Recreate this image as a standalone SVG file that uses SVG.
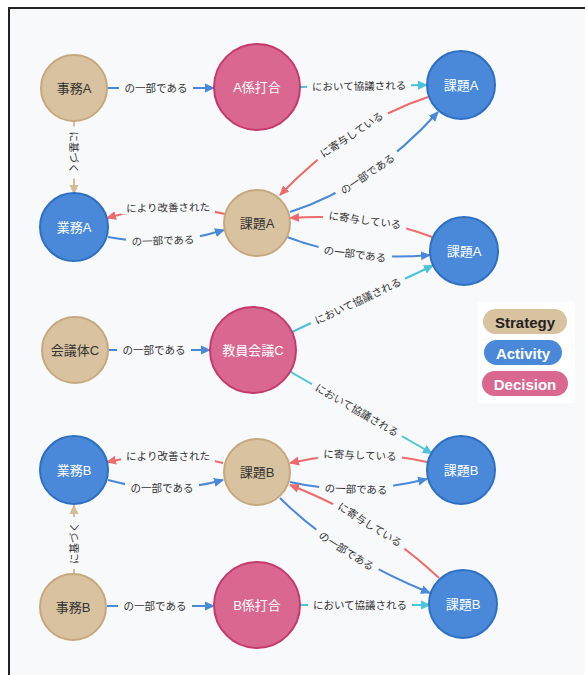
<svg xmlns="http://www.w3.org/2000/svg" width="585" height="675" viewBox="0 0 585 675">
<style>
.bg{fill:#f8f9fb}
.nt{font-family:"Liberation Sans","Noto Sans CJK JP",sans-serif;font-size:13px;text-anchor:middle;dominant-baseline:central}
.dark{fill:#333}
.light{fill:#fff}
.tan{fill:#d8c29f;stroke:#c6a87e;stroke-width:2}
.blue{fill:#4a89da;stroke:#2f6fc2;stroke-width:2}
.pink{fill:#d9678f;stroke:#c43a6b;stroke-width:2}
.e{fill:none;stroke-width:2}
.eb{stroke:#4a89da}
.er{stroke:#ef6a6a}
.ec{stroke:#4cc3d8}
.et{stroke:#d4bc98}
.lb{fill:#f8f9fb}
.el{font-family:"Liberation Sans","Noto Sans CJK JP",sans-serif;font-size:10.5px;fill:#333;text-anchor:middle;dominant-baseline:central}
.lg{font-family:"Liberation Sans",Arial,sans-serif;font-size:15px;font-weight:bold;text-anchor:middle;dominant-baseline:central}
</style>
<defs>
<marker id="mb" viewBox="0 0 10 10" refX="9" refY="5" markerWidth="10" markerHeight="10" markerUnits="userSpaceOnUse" orient="auto"><path d="M0,0.5 L10,5 L0,9.5 z" fill="#4a89da"/></marker>
<marker id="mr" viewBox="0 0 10 10" refX="9" refY="5" markerWidth="10" markerHeight="10" markerUnits="userSpaceOnUse" orient="auto"><path d="M0,0.5 L10,5 L0,9.5 z" fill="#ef6a6a"/></marker>
<marker id="mc" viewBox="0 0 10 10" refX="9" refY="5" markerWidth="10" markerHeight="10" markerUnits="userSpaceOnUse" orient="auto"><path d="M0,0.5 L10,5 L0,9.5 z" fill="#4cc3d8"/></marker>
<marker id="mt" viewBox="0 0 10 10" refX="9" refY="5" markerWidth="10" markerHeight="10" markerUnits="userSpaceOnUse" orient="auto"><path d="M0,0.5 L10,5 L0,9.5 z" fill="#d4bc98"/></marker>
</defs>
<rect x="0" y="0" width="585" height="675" fill="#fff"/>
<rect x="9" y="8" width="576" height="667" class="bg"/>
<path d="M9,675 L9,8 L585,8" fill="none" stroke="#222" stroke-width="2"/>

<g id="connectors">
<!-- E1 -->
<path class="e eb" d="M107,88 L214,88" marker-end="url(#mb)"/>
<g transform="translate(156,88)"><rect class="lb" x="-37" y="-6" width="74" height="12"/><text class="el">の一部である</text></g>
<!-- E2 -->
<path class="e ec" d="M300,87 L427,85" marker-end="url(#mc)"/>
<g transform="translate(359,86) rotate(-0.9)"><rect class="lb" x="-52" y="-6" width="104" height="12"/><text class="el">において協議される</text></g>
<!-- E3 -->
<path class="e et" d="M74,121 L74,194" marker-end="url(#mt)"/>
<g transform="translate(74,152.5) rotate(90)"><rect class="lb" x="-26" y="-6" width="52" height="12"/><text class="el">に基づく</text></g>
<!-- E4 red TR -> center -->
<path class="e er" d="M428,97 Q349,123 280,195" marker-end="url(#mr)"/>
<g transform="translate(351.5,134.5) rotate(-33.5)"><rect class="lb" x="-42" y="-6" width="84" height="12"/><text class="el">に寄与している</text></g>
<!-- blue center -> TR -->
<path class="e eb" d="M290,212 Q371,186 438,112" marker-end="url(#mb)"/>
<g transform="translate(367.5,174) rotate(-34)"><rect class="lb" x="-37" y="-6" width="74" height="12"/><text class="el">の一部である</text></g>
<!-- E5 red center -> 業務A -->
<path class="e er" d="M225,214 Q168,200 107,218" marker-end="url(#mr)"/>
<g transform="translate(168,207.5) rotate(-1)"><rect class="lb" x="-47" y="-6" width="94" height="12"/><text class="el">により改善された</text></g>
<!-- E6 blue 業務A -> center -->
<path class="e eb" d="M108,237 Q166,248 224,230" marker-end="url(#mb)"/>
<g transform="translate(163,240.5) rotate(-2)"><rect class="lb" x="-37" y="-6" width="74" height="12"/><text class="el">の一部である</text></g>
<!-- E7 red lower -> center -->
<path class="e er" d="M432,237 Q369,212.5 290,218" marker-end="url(#mr)"/>
<g transform="translate(365,220) rotate(7.6)"><rect class="lb" x="-42" y="-6" width="84" height="12"/><text class="el">に寄与している</text></g>
<!-- E8 blue center -> lower -->
<path class="e eb" d="M287,237 Q352,262 430,255" marker-end="url(#mb)"/>
<g transform="translate(355,254) rotate(7.5)"><rect class="lb" x="-37" y="-6" width="74" height="12"/><text class="el">の一部である</text></g>
<!-- E9 cyan 教員会議C -> 課題A lower -->
<path class="e ec" d="M292,332 L433,265.5" marker-end="url(#mc)"/>
<g transform="translate(358,301) rotate(-25.2)"><rect class="lb" x="-52" y="-6" width="104" height="12"/><text class="el">において協議される</text></g>
<!-- E10 cyan 教員会議C -> 課題B upper -->
<path class="e ec" d="M290,371.5 L432,453.5" marker-end="url(#mc)"/>
<g transform="translate(357,410) rotate(30)"><rect class="lb" x="-52" y="-6" width="104" height="12"/><text class="el">において協議される</text></g>
<!-- E11 -->
<path class="e eb" d="M108,350 L210,350" marker-end="url(#mb)"/>
<g transform="translate(154,350)"><rect class="lb" x="-37" y="-6" width="74" height="12"/><text class="el">の一部である</text></g>
<!-- E12 red upper B -> center B -->
<path class="e er" d="M427,462 Q360,447 290,463" marker-end="url(#mr)"/>
<g transform="translate(360,455) rotate(2)"><rect class="lb" x="-42" y="-6" width="84" height="12"/><text class="el">に寄与している</text></g>
<!-- E13 blue center B -> upper B -->
<path class="e eb" d="M290,482 Q356,497 427,479" marker-end="url(#mb)"/>
<g transform="translate(356,489) rotate(2)"><rect class="lb" x="-37" y="-6" width="74" height="12"/><text class="el">の一部である</text></g>
<!-- E14 red lower B -> center B -->
<path class="e er" d="M439,578 Q375,518 290,485" marker-end="url(#mr)"/>
<g transform="translate(370,524.5) rotate(32)"><rect class="lb" x="-42" y="-6" width="84" height="12"/><text class="el">に寄与している</text></g>
<!-- E15 blue center B -> lower B -->
<path class="e eb" d="M280,498 Q338,556 430,593" marker-end="url(#mb)"/>
<g transform="translate(346.5,551) rotate(32.3)"><rect class="lb" x="-37" y="-6" width="74" height="12"/><text class="el">の一部である</text></g>
<!-- E16 red center B -> 業務B -->
<path class="e er" d="M223,463 Q168,449 107,462" marker-end="url(#mr)"/>
<g transform="translate(168,456)"><rect class="lb" x="-47" y="-6" width="94" height="12"/><text class="el">により改善された</text></g>
<!-- E17 blue 業務B -> center B -->
<path class="e eb" d="M108,480 Q165,496 223,480" marker-end="url(#mb)"/>
<g transform="translate(162,488)"><rect class="lb" x="-37" y="-6" width="74" height="12"/><text class="el">の一部である</text></g>
<!-- E18 tan 事務B -> 業務B -->
<path class="e et" d="M74,574 L74,505" marker-end="url(#mt)"/>
<g transform="translate(74,543) rotate(-90)"><rect class="lb" x="-26" y="-6" width="52" height="12"/><text class="el">に基づく</text></g>
<!-- E19 -->
<path class="e eb" d="M107,606 L214,606" marker-end="url(#mb)"/>
<g transform="translate(155,606)"><rect class="lb" x="-37" y="-6" width="74" height="12"/><text class="el">の一部である</text></g>
<!-- E20 -->
<path class="e ec" d="M300,605 L430,605" marker-end="url(#mc)"/>
<g transform="translate(360,605)"><rect class="lb" x="-52" y="-6" width="104" height="12"/><text class="el">において協議される</text></g>
</g>

<g id="n-jimuA"><circle class="tan" cx="74" cy="88" r="33"/><text class="nt dark" x="74" y="88">事務A</text></g>
<g id="n-AkakariUchiawase"><circle class="pink" cx="257" cy="87" r="43"/><text class="nt light" x="257" y="87">A係打合</text></g>
<g id="n-kadaiA-1"><circle class="blue" cx="461" cy="85" r="34"/><text class="nt light" x="461" y="85">課題A</text></g>
<g id="n-gyomuA"><circle class="blue" cx="74" cy="227" r="34"/><text class="nt light" x="74" y="227">業務A</text></g>
<g id="n-kadaiA-c"><circle class="tan" cx="257" cy="223" r="33"/><text class="nt dark" x="257" y="223">課題A</text></g>
<g id="n-kadaiA-2"><circle class="blue" cx="464" cy="251" r="34"/><text class="nt light" x="464" y="251">課題A</text></g>
<g id="n-kaigitaiC"><circle class="tan" cx="75" cy="350" r="33"/><text class="nt dark" x="75" y="350">会議体C</text></g>
<g id="n-kyoinkaigiC"><circle class="pink" cx="253" cy="350" r="43"/><text class="nt light" x="253" y="350">教員会議C</text></g>
<g id="n-gyomuB"><circle class="blue" cx="74" cy="470" r="34"/><text class="nt light" x="74" y="470">業務B</text></g>
<g id="n-kadaiB-c"><circle class="tan" cx="257" cy="472" r="33"/><text class="nt dark" x="257" y="472">課題B</text></g>
<g id="n-kadaiB-1"><circle class="blue" cx="461" cy="470" r="34"/><text class="nt light" x="461" y="470">課題B</text></g>
<g id="n-jimuB"><circle class="tan" cx="73" cy="607" r="33"/><text class="nt dark" x="73" y="607">事務B</text></g>
<g id="n-BkakariUchiawase"><circle class="pink" cx="257" cy="605" r="43"/><text class="nt light" x="257" y="605">B係打合</text></g>
<g id="n-kadaiB-2"><circle class="blue" cx="463" cy="604" r="34"/><text class="nt light" x="463" y="604">課題B</text></g>

<g id="legend">
<rect x="478" y="302" width="97" height="101" fill="#fff"/>
<rect x="483" y="309" width="84" height="25" rx="12.5" fill="#d8c29f"/>
<text class="lg" x="525" y="322" fill="#222">Strategy</text>
<rect x="484" y="340" width="78" height="25" rx="12.5" fill="#4a89da"/>
<text class="lg" x="523" y="353" fill="#fff">Activity</text>
<rect x="482" y="371" width="86" height="25" rx="12.5" fill="#d9678f"/>
<text class="lg" x="525" y="384" fill="#fff">Decision</text>
</g>
</svg>
